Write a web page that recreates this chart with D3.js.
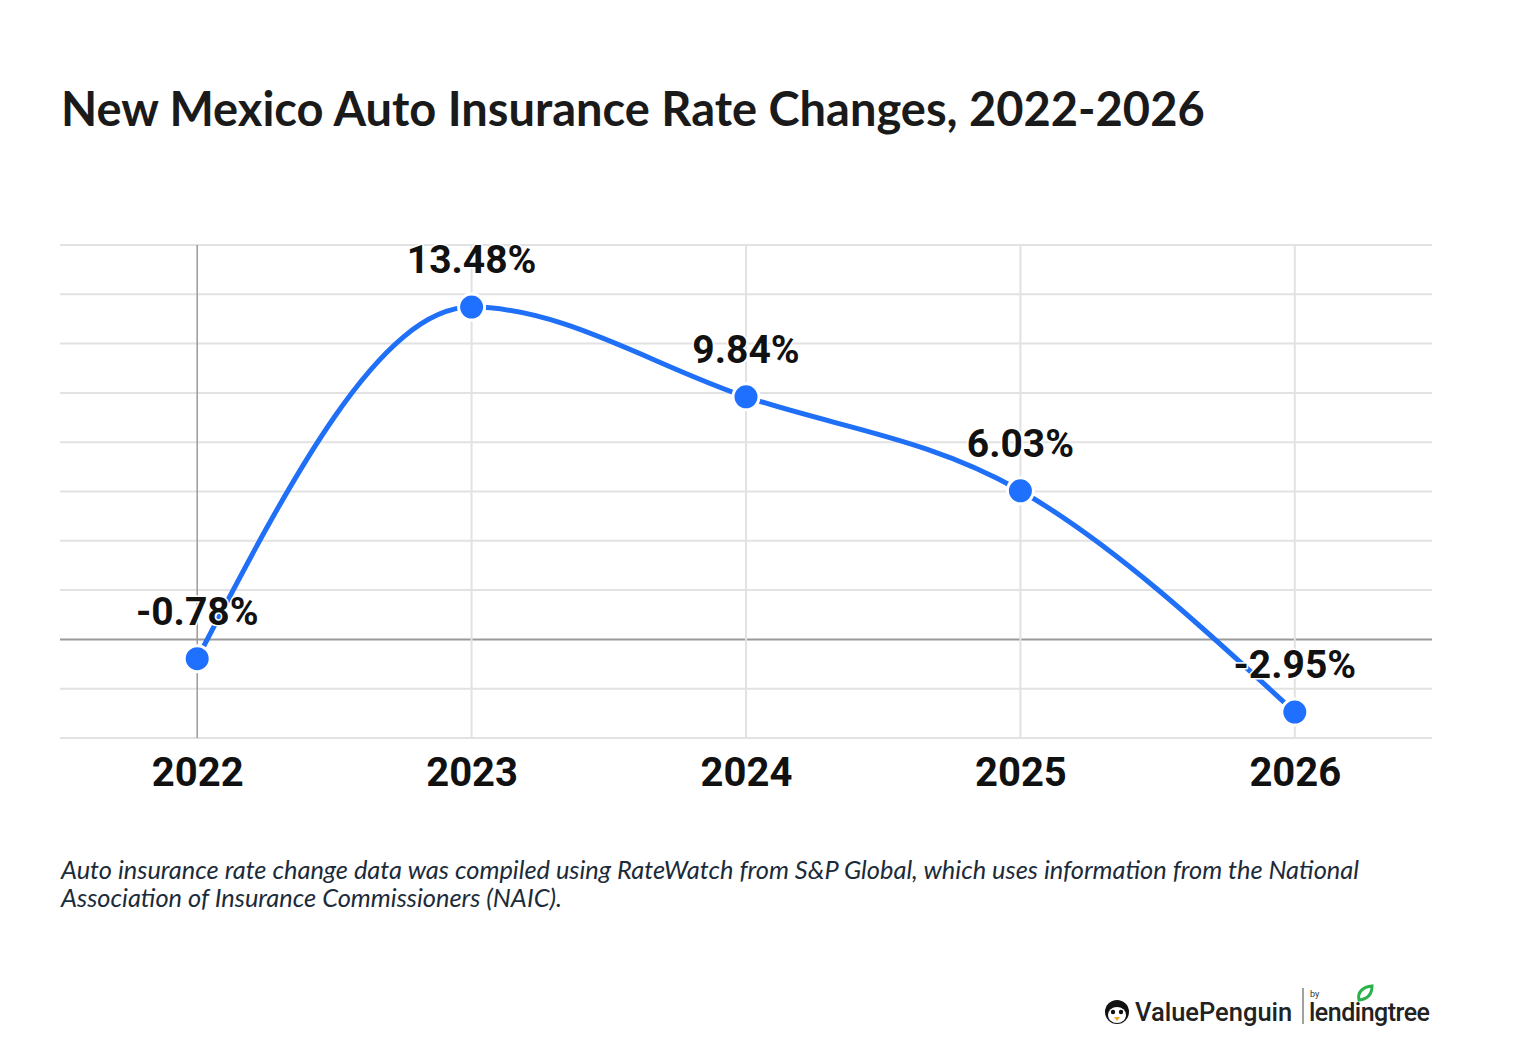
<!DOCTYPE html>
<html>
<head>
<meta charset="utf-8">
<script src="https://cdn.jsdelivr.net/npm/d3@7"></script>
<style>
  body { margin: 0; background: #fff; }
  svg { display: block; }
</style>
</head>
<body>
<div id="chart"></div>
<script>
// data
const years = ["2022", "2023", "2024", "2025", "2026"];
const rateChanges = [-0.78, 13.48, 9.84, 6.03, -2.95];
const yTicks = [-4, -2, 0, 2, 4, 6, 8, 10, 12, 14, 16];

const W = 1520, H = 1044;
const margin = { top: 245, right: 88, bottom: 306, left: 60 };
const width = W - margin.left - margin.right;
const height = H - margin.top - margin.bottom;

const svg = d3.select("#chart").append("svg")
  .attr("width", W)
  .attr("height", H);

// title
svg.append("text")
  .attr("x", 61)
  .attr("y", 126)
  .style("font-family", "Lato")
  .style("font-weight", "700")
  .style("font-size", "47px")
  .style("fill", "#1a1a1a")
  .text("New Mexico Auto Insurance Rate Changes, 2022-2026");

const g = svg.append("g")
  .attr("transform", `translate(${margin.left},${margin.top})`);

const x = d3.scalePoint()
  .domain(years)
  .range([0, width])
  .padding(0.5);

const y = d3.scaleLinear()
  .domain([-4, 16])
  .range([height, 0]);

// horizontal grid
g.selectAll(".hgrid")
  .data(yTicks)
  .enter()
  .append("line")
  .attr("x1", 0)
  .attr("x2", width)
  .attr("y1", d => y(d))
  .attr("y2", d => y(d))
  .style("stroke", d => d === 0 ? "#9a9a9a" : "#e2e2e2")
  .style("stroke-width", 2);

// vertical grid
g.selectAll(".vgrid")
  .data(years)
  .enter()
  .append("line")
  .attr("x1", d => x(d))
  .attr("x2", d => x(d))
  .attr("y1", 0)
  .attr("y2", height)
  .style("stroke", (d, i) => i === 0 ? "#9a9a9a" : "#e2e2e2")
  .style("stroke-width", (d, i) => i === 0 ? 1.5 : 2);

// x axis labels
g.append("g")
  .attr("transform", `translate(0,${height})`)
  .call(d3.axisBottom(x).tickSize(0).tickPadding(0))
  .call(a => a.select(".domain").remove())
  .selectAll("text")
  .attr("dy", null)
  .attr("y", 48)
  .style("font-family", "Roboto")
  .style("font-weight", "700")
  .style("font-size", "40px")
  .style("fill", "#111");

const points = years.map((d, i) => ({ year: d, value: rateChanges[i] }));

// line
const line = d3.line()
  .x(d => x(d.year))
  .y(d => y(d.value))
  .curve(d3.curveMonotoneX);

g.append("path")
  .datum(points)
  .attr("d", line)
  .style("fill", "none")
  .style("stroke", "#1f6ff7")
  .style("stroke-width", 5);

// dots
g.selectAll(".dot")
  .data(points)
  .enter()
  .append("circle")
  .attr("cx", d => x(d.year))
  .attr("cy", d => y(d.value))
  .attr("r", 13)
  .style("fill", "#2070ff")
  .style("stroke", "#fff")
  .style("stroke-width", 3);

// value labels
g.selectAll(".lbl")
  .data(points)
  .enter()
  .append("text")
  .attr("x", d => x(d.year))
  .attr("y", d => y(d.value) - 34)
  .attr("text-anchor", "middle")
  .style("font-family", "Roboto")
  .style("font-weight", "700")
  .style("font-size", "39px")
  .style("fill", "#111")
  .style("paint-order", "stroke")
  .style("stroke", "#fff")
  .style("stroke-width", 3)
  .style("stroke-linejoin", "round")
  .text(d => d.value.toFixed(2) + "%");

// footnote
const note = svg.append("text")
  .style("font-family", "Lato")
  .style("font-style", "italic")
  .style("font-size", "25.4px")
  .style("fill", "#1c2b3a");
note.append("tspan").attr("x", 61).attr("y", 879)
  .text("Auto insurance rate change data was compiled using RateWatch from S&P Global, which uses information from the National");
note.append("tspan").attr("x", 61).attr("y", 907)
  .text("Association of Insurance Commissioners (NAIC).");

// logo
const logo = svg.append("g").attr("transform", "translate(1104,1000)");
logo.append("circle").attr("cx", 13).attr("cy", 12).attr("r", 12).style("fill", "#111");
logo.append("ellipse").attr("cx", 13).attr("cy", 15).attr("rx", 9).attr("ry", 8).style("fill", "#fff");
logo.append("circle").attr("cx", 9).attr("cy", 12).attr("r", 2.2).style("fill", "#111");
logo.append("circle").attr("cx", 17).attr("cy", 12).attr("r", 2.2).style("fill", "#111");
logo.append("path").attr("d", "M10,17 L16,17 L13,21 Z").style("fill", "#f5a623");
logo.append("text")
  .attr("x", 31).attr("y", 21)
  .style("font-family", "Roboto")
  .style("font-weight", "500")
  .style("font-size", "25.5px")
  .style("fill", "#222")
  .text("ValuePenguin");
logo.append("line")
  .attr("x1", 199).attr("x2", 199).attr("y1", -12).attr("y2", 24)
  .style("stroke", "#444").style("stroke-width", 1);
logo.append("text")
  .attr("x", 206).attr("y", -3)
  .style("font-family", "Roboto")
  .style("font-size", "9px")
  .style("fill", "#333")
  .text("by");
logo.append("text")
  .attr("x", 205).attr("y", 21)
  .style("font-family", "Roboto")
  .style("font-weight", "500")
  .style("font-size", "25px")
  .style("letter-spacing", "-0.5px")
  .style("fill", "#222")
  .text("lendingtree");
logo.append("path")
  .attr("d", "M255,0 C253,-8 259,-13 268,-14 C268,-6 264,-1 255,0 Z")
  .style("fill", "#fff").style("stroke", "#2bb24c").style("stroke-width", 3);
</script>
</body>
</html>
